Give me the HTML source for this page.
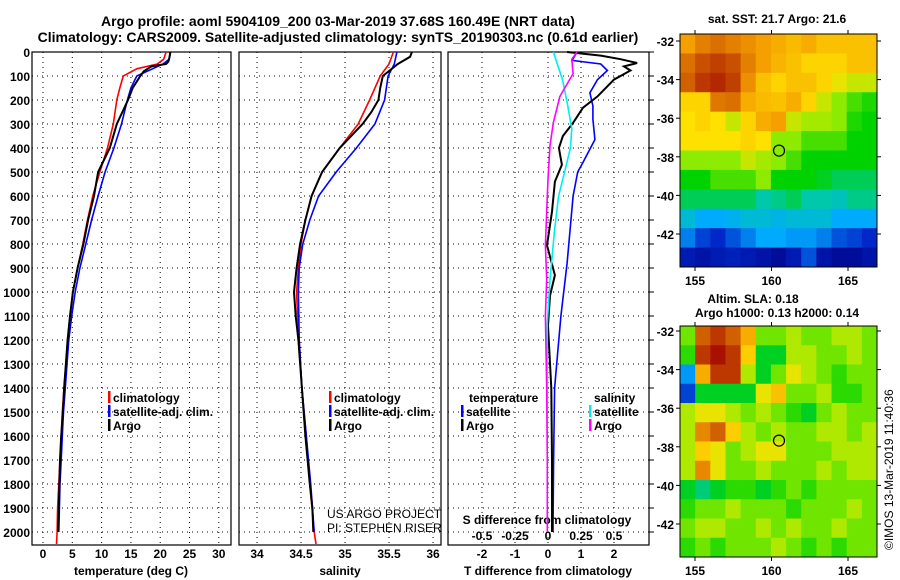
<!DOCTYPE html>
<html><head><meta charset="utf-8"><style>
body{margin:0;background:#fff;}
svg{display:block;font-family:"Liberation Sans",sans-serif;}
.b{font-weight:bold;font-size:12px;}
.t{font-weight:bold;font-size:14px;}
</style></head><body>
<svg id="c" width="900" height="580" viewBox="0 0 900 580">
<text class="t" x="338" y="26" text-anchor="middle">Argo profile: aoml 5904109_200 03-Mar-2019 37.68S 160.49E (NRT data)</text>
<text class="t" x="338" y="42" text-anchor="middle">Climatology: CARS2009. Satellite-adjusted climatology: synTS_20190303.nc (0.61d earlier)</text>
<text class="b" x="777" y="23" text-anchor="middle">sat. SST: 21.7 Argo: 21.6</text>
<text class="b" x="753" y="303" text-anchor="middle">Altim. SLA: 0.18</text>
<text class="b" x="777" y="317" text-anchor="middle">Argo h1000: 0.13 h2000: 0.14</text>
<text x="893" y="550" font-size="12" transform="rotate(-90 893 550)">©IMOS 13-Mar-2019 11:40:36</text>
<text x="327" y="518" font-size="12">US ARGO PROJECT</text>
<text x="327" y="532" font-size="12">PI: STEPHEN RISER</text>
<g id="g"></g>
</svg>
<script>
// ---- data ----
const depthTicks=[0,100,200,300,400,500,600,700,800,900,1000,1100,1200,1300,1400,1500,1600,1700,1800,1900,2000];
const tempTicks=[0,5,10,15,20,25,30];
const salTicks=[34,34.5,35,35.5,36];
const tdiffTicks=[-2,-1,0,1,2];
const sdiffTicks=[-0.5,-0.25,0,0.25,0.5];
const sdiffTickLabels=["-0.5","-0.25","0","0.25","0.5"];
const tArgoD=[0,20,40,50,60,80,100,150,200,300,400,500,600,700,800,900,1000,1100,1200,1300,1400,1500,1600,1700,1800,1900,2000];
const tArgo=[21.7,21.6,21.4,21,18.5,17.2,16.6,15.3,14.5,12.6,11.4,9.4,8.7,7.7,6.9,5.9,5.1,4.6,4.2,3.9,3.6,3.4,3.1,2.9,2.8,2.7,2.6];
const tClimD=[0,30,50,70,100,150,200,300,400,500,600,700,800,900,1000,1100,1200,1300,1400,1500,1600,1700,1800,1900,2000,2050];
const tClim=[21,20.6,19.5,16,13.7,13.1,12.6,12,11,9.7,8.5,7.6,6.8,5.9,5.1,4.6,4.2,3.9,3.6,3.3,3.1,2.9,2.7,2.5,2.4,2.3];
const tSatD=[0,30,50,100,150,200,300,400,500,600,700,800,900,1000,1100,1200,1300,1400,1500,1600,1700,1800,1900,2000];
const tSat=[21.8,21.5,20.5,16,15,14.4,13.4,12.1,10.6,9.4,8.3,7.3,6.3,5.5,4.9,4.4,4.1,3.8,3.5,3.3,3.1,2.9,2.8,2.7];
const sArgoD=[0,20,50,100,150,200,250,300,400,500,600,700,800,900,1000,1100,1200,1400,1600,1800,1900,2000];
const sArgo=[35.76,35.74,35.6,35.43,35.4,35.38,35.3,35.2,34.94,34.74,34.62,34.55,34.49,34.45,34.42,34.44,34.47,34.51,34.55,34.6,34.63,34.64];
const sClimD=[0,50,100,200,300,400,500,600,700,800,900,1000,1100,1200,1400,1600,1800,2000,2050];
const sClim=[35.55,35.5,35.4,35.28,35.15,34.94,34.74,34.62,34.55,34.5,34.47,34.45,34.46,34.48,34.51,34.56,34.6,34.65,34.67];
const sSatD=[0,50,100,200,300,400,500,600,700,800,900,1000,1200,1400,1600,1800,2000];
const sSat=[35.59,35.56,35.49,35.45,35.34,35.13,34.9,34.7,34.6,34.52,34.48,34.47,34.48,34.51,34.56,34.61,34.65];
const dtArgoD=[0,15,30,46,60,77,115,185,232,295,350,400,470,540,665,805,930,1015,1140,1400,1700,2000];
const dtArgo=[0.58,1.6,2.2,2.7,2.3,2.5,2.0,1.5,1.06,0.76,0.45,0.33,0.42,0.21,0.12,-0.03,0.21,0.06,0.0,0.1,0.12,0.12];
const dtSatD=[0,35,50,77,115,170,225,280,365,460,500,600,740,880,1100,1400,1700,2000];
const dtSat=[0.88,0.73,1.6,1.8,1.5,1.27,1.36,1.36,1.42,1.06,0.9,0.76,0.67,0.58,0.39,0.2,0.17,0.15];
const dsSatD=[0,115,225,320,400,490,600,740,950,1130,1500,2000];
const dsSat=[0.04,0.11,0.15,0.18,0.17,0.13,0.08,0.05,0.015,-0.005,-0.005,-0.005];
const dsArgoD=[0,30,90,185,295,390,530,665,805,945,1100,1400,1700,2000];
const dsArgo=[0.22,0.18,0.19,0.09,0.04,0.015,0.0,-0.01,-0.02,-0.01,-0.02,-0.01,-0.005,-0.005];
const sstGrid=[
[.8,.84,.86,.84,.82,.8,.78,.76,.78,.75,.75,.75,.75],
[.86,.9,.92,.9,.84,.8,.77,.75,.72,.72,.72,.75,.75],
[.88,.93,.95,.92,.82,.75,.72,.75,.75,.72,.68,.65,.65],
[.72,.72,.85,.86,.78,.76,.75,.78,.72,.65,.6,.55,.52],
[.7,.72,.7,.65,.72,.78,.8,.65,.62,.62,.6,.52,.5],
[.7,.7,.7,.7,.72,.7,.6,.6,.55,.55,.55,.5,.5],
[.6,.6,.6,.6,.65,.62,.6,.55,.5,.5,.5,.5,.5],
[.5,.5,.55,.55,.55,.6,.5,.5,.5,.48,.45,.45,.45],
[.45,.45,.45,.45,.45,.4,.42,.45,.4,.4,.38,.42,.42],
[.35,.3,.3,.32,.35,.35,.33,.35,.35,.35,.3,.3,.3],
[.25,.18,.15,.2,.25,.3,.3,.28,.28,.25,.2,.18,.15],
[.1,.08,.1,.12,.1,.08,.05,.1,.2,.08,.05,.05,.08]];
const slaGrid=[
[.55,.85,.9,.85,.75,.55,.55,.6,.55,.55,.6,.6,.55],
[.5,.9,.95,.9,.7,.45,.45,.6,.6,.55,.55,.6,.55],
[.25,.75,.9,.9,.6,.45,.55,.65,.6,.55,.5,.55,.55],
[.15,.45,.45,.45,.45,.65,.72,.55,.55,.6,.5,.5,.55],
[.6,.65,.65,.6,.55,.6,.55,.5,.45,.55,.6,.55,.55],
[.6,.8,.85,.7,.6,.55,.6,.55,.55,.6,.6,.55,.6],
[.6,.7,.65,.55,.6,.65,.65,.55,.55,.55,.6,.6,.6],
[.6,.8,.65,.55,.55,.6,.55,.55,.55,.6,.55,.6,.6],
[.45,.4,.45,.5,.5,.45,.5,.55,.5,.55,.55,.55,.55],
[.5,.55,.55,.6,.55,.55,.55,.5,.55,.55,.55,.6,.55],
[.55,.6,.6,.55,.55,.6,.55,.6,.55,.55,.6,.55,.55],
[.5,.55,.5,.55,.55,.55,.6,.55,.5,.55,.5,.55,.55]];
const lonTicks=[155,160,165];
const latTicks=[-32,-34,-36,-38,-40,-42];
const argoLon=160.49, argoLat=-37.68;

// ---- drawing ----
const NS="http://www.w3.org/2000/svg";
const G=document.getElementById('g');
function mk(tag,attrs,parent){const e=document.createElementNS(NS,tag);for(const k in attrs)e.setAttribute(k,attrs[k]);(parent||G).appendChild(e);return e;}
const y0=52, yB=545;
const yD=d=>y0+d*0.24;
const panels=[{x0:32,x1:231},{x0:239,x1:441},{x0:448,x1:649}];
const xT=t=>43+5.86*t;
const xS=s=>257+88*(s-34);
const xDT=t=>548+33*t;
const xDS=s=>548+132*s;
function line(xs,ds,fx,color,name,w){
  const pts=xs.map((v,i)=>fx(v).toFixed(1)+","+yD(ds[i]).toFixed(1)).join(" ");
  const p=mk('polyline',{points:pts,fill:'none',stroke:color,'stroke-width':w||1.6});
  
  
}
function txt(x,y,s,cls,anchor,name,color){const t=mk('text',{x:x,y:y,class:cls||'b','text-anchor':anchor||'start',fill:color||'#000'});t.textContent=s;return t;}
panels.forEach((p,i)=>{
  depthTicks.forEach(d=>{const l=mk('line',{x1:p.x0,x2:p.x1,y1:yD(d),y2:yD(d),stroke:'#000','stroke-dasharray':'1 4','stroke-width':1});});
  const gx=i==0?tempTicks.map(xT):i==1?salTicks.map(xS):tdiffTicks.map(xDT);
  gx.forEach(x=>{const l=mk('line',{x1:x,x2:x,y1:y0,y2:yB,stroke:'#000','stroke-dasharray':'1 4','stroke-width':1});});
  const r=mk('rect',{x:p.x0,y:y0,width:p.x1-p.x0,height:yB-y0,fill:'none',stroke:'#000','stroke-width':1.2});
  
  
});
depthTicks.forEach(d=>txt(30,yD(d)+5,String(d),'b','end','depth-tick-label'));
depthTicks.forEach(d=>{const l=mk('line',{x1:649,x2:654,y1:yD(d),y2:yD(d),stroke:'#000'});});
tempTicks.forEach(t=>txt(xT(t),558,String(t),'b','middle','temp-tick-label'));
salTicks.forEach(s=>txt(xS(s),558,String(s),'b','middle','salinity-tick-label'));
tdiffTicks.forEach(t=>txt(xDT(t),558,String(t),'b','middle','tdiff-tick-label'));
sdiffTicks.forEach((s,i)=>txt(xDS(s),540,sdiffTickLabels[i],'b','middle','sdiff-tick-label'));
txt(131,575,'temperature (deg C)','b','middle','temp-axis-title');
txt(340,575,'salinity','b','middle','salinity-axis-title');
txt(548,575,'T difference from climatology','b','middle','tdiff-axis-title');
txt(547,524,'S difference from climatology','b','middle','sdiff-axis-title');
line(tClim,tClimD,xT,'#f00','temp-climatology-line');
line(tSat,tSatD,xT,'#00f','temp-satellite-line');
line(tArgo,tArgoD,xT,'#000','temp-argo-line',2);
line(sClim,sClimD,xS,'#f00','sal-climatology-line');
line(sSat,sSatD,xS,'#00f','sal-satellite-line');
line(sArgo,sArgoD,xS,'#000','sal-argo-line',2);
line(dtSat,dtSatD,xDT,'#00f','tdiff-satellite-line');
line(dtArgo,dtArgoD,xDT,'#000','tdiff-argo-line',2);
line(dsSat,dsSatD,xDS,'#0ee','sdiff-satellite-line');
line(dsArgo,dsArgoD,xDS,'#f0f','sdiff-argo-line');
function leg(x,y,color,label){const m=mk('rect',{x:x,y:y-6,width:2.5,height:12,fill:color});txt(x+5,y+5,label,'b','start','legend-entry');}
[[108],[329]].forEach(a=>{leg(a[0],397,'#f00','climatology');leg(a[0],411,'#00f','satellite-adj. clim.');leg(a[0],425,'#000','Argo');});
txt(469,402,'temperature','b','start','legend-header-temperature');
txt(594,402,'salinity','b','start','legend-header-salinity');
leg(461,411,'#00f','satellite');leg(461,425,'#000','Argo');
leg(589,411,'#0ee','satellite');leg(589,425,'#f0f','Argo');
function cmap(v){
  const stops=[[0,[0,0,130]],[0.15,[0,40,200]],[0.3,[0,170,255]],[0.4,[0,200,170]],[0.5,[0,210,0]],[0.6,[140,235,0]],[0.7,[255,225,0]],[0.8,[245,160,0]],[0.9,[200,80,0]],[1,[160,0,0]]];
  for(let i=1;i<stops.length;i++){if(v<=stops[i][0]){const a=stops[i-1],b=stops[i],f=(v-a[0])/(b[0]-a[0]);return 'rgb('+a[1].map((c,j)=>Math.round(c+f*(b[1][j]-c))).join(',')+')';}}
  return 'rgb(160,0,0)';
}
function drawMap(grid,shift,X0,X1,Y0,Y1,latY32,latY42,name){
  const lonX=l=>695+(l-155)*15.3;
  const latY=l=>latY32+(-32-l)*(latY42-latY32)/10;
  const nr=grid.length,nc=grid[0].length,cw=(X1-X0)/nc,ch=(Y1-Y0)/nr;
  grid.forEach((row,r)=>row.forEach((v,c)=>{const e=mk('rect',{x:X0+c*cw,y:Y0+r*ch,width:cw+0.5,height:ch+0.5,fill:cmap(Math.min(1,v+shift))});}));
  const f=mk('rect',{x:X0,y:Y0,width:X1-X0,height:Y1-Y0,fill:'none',stroke:'#000','stroke-width':1});
  
  lonTicks.forEach(l=>{const x=lonX(l);mk('line',{x1:x,x2:x,y1:Y1,y2:Y1+4,stroke:'#000'});mk('line',{x1:x,x2:x,y1:Y0,y2:Y0-4,stroke:'#000'});txt(x,Y1+18,String(l),'b','middle',name+'-lon-label').setAttribute('font-size','13');});
  latTicks.forEach(l=>{const y=latY(l);mk('line',{x1:X0-4,x2:X0,y1:y,y2:y,stroke:'#000'});mk('line',{x1:X1,x2:X1+4,y1:y,y2:y,stroke:'#000'});txt(X0-6,y+5,String(l),'b','end',name+'-lat-label');});
  const c=mk('circle',{cx:lonX(argoLon),cy:latY(argoLat),r:5.5,fill:'none',stroke:'#000','stroke-width':1.2});
  
}
drawMap(sstGrid,0,680,877,34,267,41,234,'sst-map');
drawMap(slaGrid,0.03,680,877,326,557,331,524,'sla-map');
</script>
</body></html>
